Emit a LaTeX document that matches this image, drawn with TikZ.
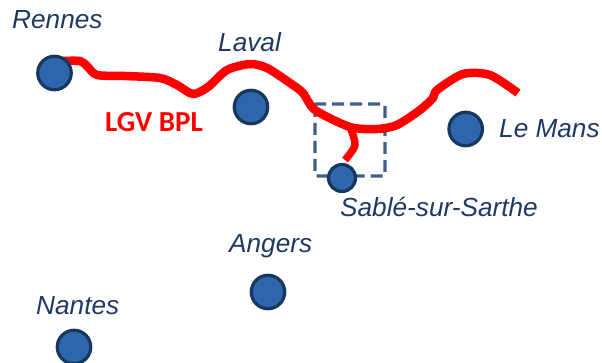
\documentclass[tikz,border=0pt]{standalone}
\usepackage{fontspec}
\setmainfont{Liberation Sans}
\newfontfamily\lgvfont{Carlito}
\definecolor{cityfill}{HTML}{2E65AD}
\definecolor{cityline}{HTML}{17375E}
\definecolor{boxline}{HTML}{3F5F8A}
\definecolor{labelcol}{HTML}{1F3864}
\tikzset{
  city/.style={circle,draw=cityline,fill=cityfill,line width=3.2pt,minimum size=33.5pt,inner sep=0pt},
  smallcity/.style={city,minimum size=27pt},
  citylabel/.style={text=labelcol,font=\fontsize{26.2}{28}\selectfont\itshape,inner sep=0pt,anchor=base west},
  rail/.style={draw=red,line width=8.5pt,line join=round},
  railname/.style={text=red,font=\fontsize{29}{30}\lgvfont\bfseries,inner sep=0pt,anchor=base west},
  zonebox/.style={draw=boxline,line width=3.2pt,dash pattern=on 12pt off 6pt,rounded corners=1pt}
}
\begin{document}
\begin{tikzpicture}[x=1pt,y=-1pt]
\useasboundingbox (0,0) rectangle (602,363);
\draw[zonebox] (315,104) rectangle (385,176);
\draw[rail] plot[smooth,tension=0.45] coordinates {(62,61) (80,61) (87,66) (97,75) (125,76) (160,78) (177,85) (193,94) (208,87) (227,70) (250,64) (267,68) (290,83) (303,93) (315,110) (350,127) (377,129) (397,125) (420,110) (433,98) (437,90) (463,74) (490,75) (518,93)};
\draw[rail,line width=7.5pt] plot[smooth,tension=0.5] coordinates {(350,127) (355,145) (345,160)};
\node[city] (rennes) at (54.5,73) {};
\node[city] (laval) at (251,107) {};
\node[city] (lemans) at (465.7,129) {};
\node[smallcity] (sable) at (342,178) {};
\node[city] (angers) at (268,292) {};
\node[city] (nantes) at (74,347) {};
\node[citylabel] (trennes) at (12,29) {Rennes};
\node[citylabel] (tlaval) at (218,52) {Laval};
\node[citylabel] (tlemans) at (499,138) {Le Mans};
\node[citylabel] (tsable) at (340,217) {Sablé-sur-Sarthe};
\node[citylabel] (tangers) at (229,253) {Angers};
\node[citylabel] (tnantes) at (36,314) {Nantes};
\node[railname] (lgv) at (105,132) {LGV BPL};
\end{tikzpicture}
\end{document}
